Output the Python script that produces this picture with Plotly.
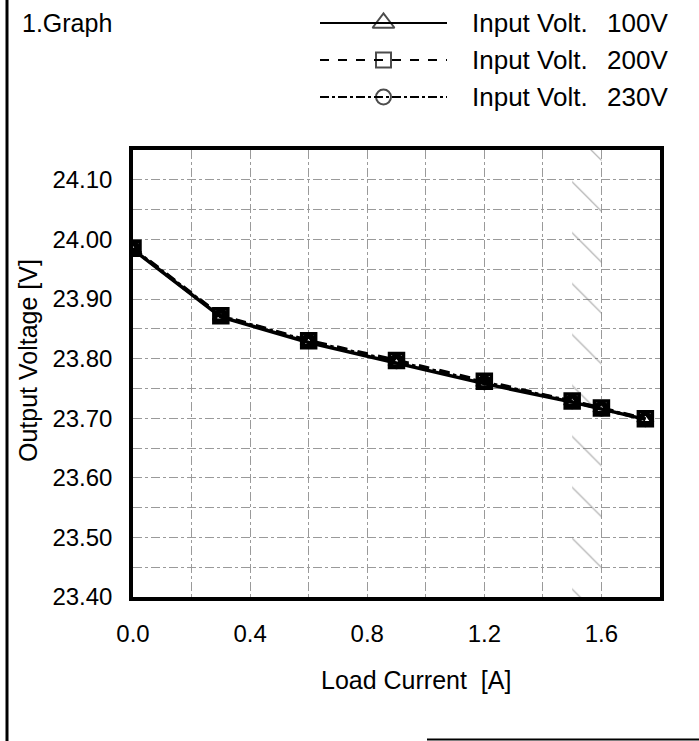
import plotly.graph_objects as go

# ---- data ----
load_current = [0.0, 0.3, 0.6, 0.9, 1.2, 1.5, 1.6, 1.75]
v_100 = [23.983, 23.870, 23.827, 23.793, 23.758, 23.727, 23.715, 23.698]
v_200 = [23.985, 23.872, 23.830, 23.797, 23.762, 23.729, 23.717, 23.699]
v_230 = [23.984, 23.871, 23.829, 23.795, 23.760, 23.728, 23.716, 23.698]
series_names = ["100V", "200V", "230V"]
series_values = [v_100, v_200, v_230]
x_ticks = [0.0, 0.4, 0.8, 1.2, 1.6]
y_ticks = [23.40, 23.50, 23.60, 23.70, 23.80, 23.90, 24.00, 24.10]
x_range = [0.0, 1.8]
y_range = [23.40, 24.15]
hatch_x = [1.5, 1.6]   # hatched (derating) band

# ---- styles ----
FONT = "Liberation Sans, Arial, sans-serif"
dashes = ["solid", "dash", "dashdot"]
symbols = ["triangle-up-open", "square-open", "circle-open"]
sizes = [13, 14, 12]
legend_sizes = [19, 15, 15]

W, H = 699, 741
px = lambda x: x / W
py = lambda y: (H - y) / H

fig = go.Figure()

# hatched band
fig.add_trace(go.Scatter(
    x=[hatch_x[0], hatch_x[1], hatch_x[1], hatch_x[0], hatch_x[0]],
    y=[y_range[0], y_range[0], y_range[1], y_range[1], y_range[0]],
    mode="lines", line=dict(width=0, color="rgba(0,0,0,0)"),
    fill="toself", fillcolor="rgba(0,0,0,0)",
    fillpattern=dict(shape="\\", size=36, solidity=0.035,
                     fgcolor="#6a6a6a", bgcolor="rgba(0,0,0,0)"),
    hoverinfo="skip", showlegend=False, xaxis="x", yaxis="y"))

for name, vals, d, s, sz in zip(series_names, series_values, dashes, symbols, sizes):
    fig.add_trace(go.Scatter(
        x=load_current, y=vals, mode="lines+markers", name="Input Volt. " + name,
        line=dict(color="black", width=3.5, dash=d),
        marker=dict(symbol=s, size=sz, color="black", line=dict(color="black", width=3.5)),
        showlegend=False, xaxis="x", yaxis="y"))

# custom legend samples on a helper axis
for i, (name, d, s, sz) in enumerate(zip(series_names, dashes, symbols, legend_sizes)):
    fig.add_trace(go.Scatter(
        x=[0, 0.5, 1], y=[i, i, i], mode="lines+markers",
        line=dict(color="black", width=2, dash=d),
        marker=dict(symbol=s, size=[0, sz, 0], color="black", line=dict(color="black", width=2)),
        showlegend=False, hoverinfo="skip", xaxis="x2", yaxis="y2"))
    fig.add_annotation(text="Input Volt.", xref="paper", yref="y2", x=px(470), y=i,
                       xanchor="left", yanchor="middle", showarrow=False,
                       font=dict(family=FONT, size=26, color="black"))
    fig.add_annotation(text=name, xref="paper", yref="y2", x=px(670), y=i,
                       xanchor="right", yanchor="middle", showarrow=False,
                       font=dict(family=FONT, size=26, color="black"))

fig.add_annotation(text="1.Graph", xref="paper", yref="paper", x=px(20), y=py(23),
                   xanchor="left", yanchor="middle", showarrow=False,
                   font=dict(family=FONT, size=25, color="black"))

# axis titles (placed as in the reference)
fig.add_annotation(text="Load Current  [A]", xref="paper", yref="paper", x=px(416), y=py(680),
                   xanchor="center", yanchor="middle", showarrow=False,
                   font=dict(family=FONT, size=25, color="black"))
fig.add_annotation(text="Output Voltage [V]", xref="paper", yref="paper", x=px(28), y=py(361),
                   xanchor="center", yanchor="middle", showarrow=False, textangle=-90,
                   font=dict(family=FONT, size=25, color="black"))

grid = dict(gridcolor="#9a9a9a", gridwidth=1, griddash="dashdot")

fig.update_layout(
    width=W, height=H, margin=dict(l=0, r=0, t=0, b=0),
    paper_bgcolor="white", plot_bgcolor="white",
    font=dict(family=FONT, size=24, color="black"),
    showlegend=False,
    xaxis=dict(domain=[px(133), px(660)], range=x_range, tickvals=x_ticks,
               tickformat=".1f", showline=True, mirror=True, linecolor="black",
               linewidth=3.5, ticks="", ticklabelstandoff=12, zeroline=False,
               showgrid=True, **grid,
               minor=dict(dtick=0.2, showgrid=True, **grid),
               automargin=False),
    yaxis=dict(domain=[py(597), py(150)], range=y_range, tickvals=y_ticks,
               tickformat=".2f", showline=True, mirror=True, linecolor="black",
               linewidth=3.5, ticks="", ticklabelstandoff=12, zeroline=False,
               showgrid=True, **grid,
               minor=dict(dtick=0.05, showgrid=True, **grid),
               automargin=False),
    xaxis2=dict(domain=[px(320), px(447)], range=[0, 1], visible=False, anchor="y2"),
    yaxis2=dict(domain=[py(115.5), py(4.5)], range=[2.5, -0.5], visible=False, anchor="x2"),
    shapes=[
        dict(type="line", xref="paper", yref="paper", x0=px(7), x1=px(7), y0=0, y1=1,
             line=dict(color="black", width=3)),
        dict(type="line", xref="paper", yref="paper", x0=px(427), x1=1, y0=py(739.5), y1=py(739.5),
             line=dict(color="black", width=2)),
    ],
)

fig.write_html("out.html")
